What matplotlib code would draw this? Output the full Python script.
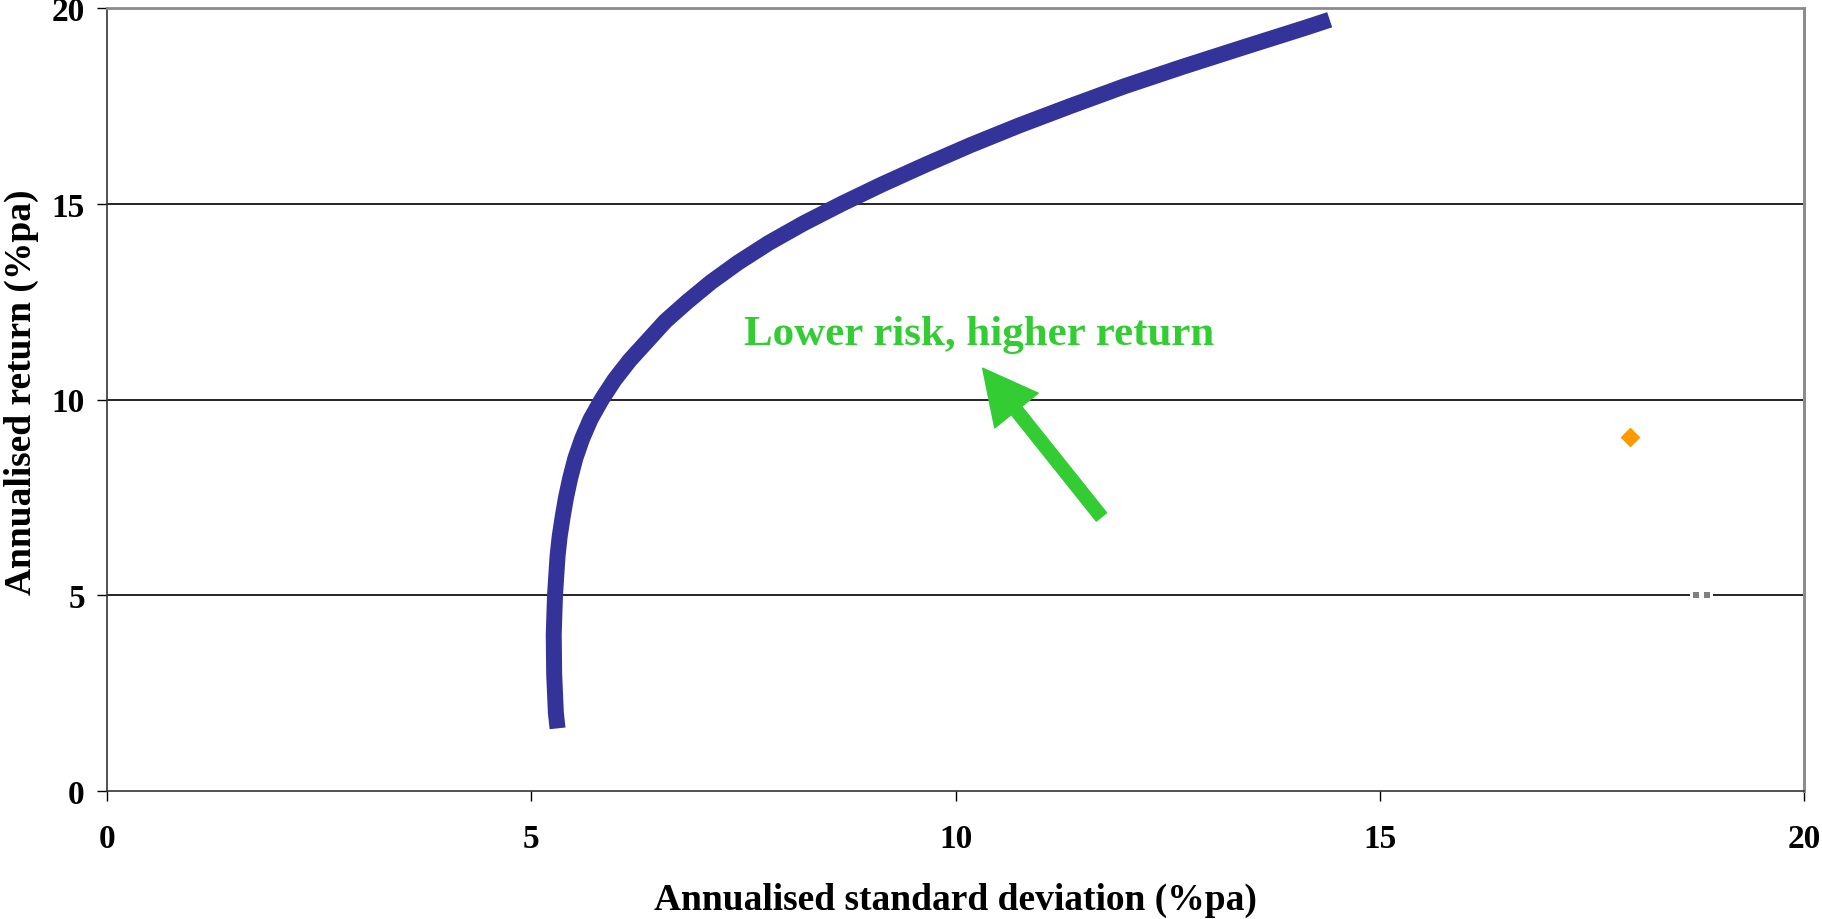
import matplotlib
matplotlib.use("Agg")
import matplotlib.pyplot as plt
from matplotlib.patches import FancyArrowPatch, ArrowStyle

# efficient frontier
frontier_ret = [1.6, 2.0, 3.0, 4.0, 5.0, 6.0, 6.5, 7.0, 7.5, 8.0, 8.5, 9.0, 9.5,
                10.0, 10.5, 11.0, 11.5, 12.0, 12.5, 13.0, 13.5, 14.0, 14.5,
                15.0, 15.5, 16.0, 16.5, 17.0, 17.5, 18.0, 18.5, 19.0, 19.5, 19.7]
frontier_sd = [5.31, 5.29, 5.27, 5.265, 5.28, 5.31, 5.335, 5.37, 5.41, 5.46,
               5.52, 5.60, 5.70, 5.83, 5.98, 6.16, 6.37, 6.58, 6.84, 7.12,
               7.44, 7.80, 8.21, 8.66, 9.14, 9.65, 10.18, 10.75, 11.36, 11.99,
               12.68, 13.40, 14.13, 14.41]

# single portfolio (orange diamond)
point_sd = [17.95]
point_ret = [9.04]

# grey marks on the 5% line
grey_sd = [18.73, 18.86]
grey_ret = [5.0, 5.0]

x_ticks = [0, 5, 10, 15, 20]
y_ticks = [0, 5, 10, 15, 20]

note_text = "Lower risk, higher return"
arrow_from = (11.72, 7.0)
arrow_to = (10.32, 10.8)

plt.rcParams['font.family'] = ['Liberation Serif', 'DejaVu Serif']
plt.rcParams['font.weight'] = 'bold'

fig = plt.figure(figsize=(18.22, 9.2), dpi=100)
ax = fig.add_axes([107 / 1822, 1 - 792 / 920, 1697 / 1822, 783 / 920])

ax.set_xlim(0, 20)
ax.set_ylim(0, 20)
ax.set_xticks(x_ticks)
ax.set_yticks(y_ticks)
ax.tick_params(axis='both', direction='out', length=7, width=1.0, labelsize=24)
ax.tick_params(axis='x', pad=16)
ax.tick_params(axis='y', pad=9)

for v in y_ticks[1:-1]:
    ax.axhline(v, color='black', lw=1.2, zorder=1)

ax.spines['top'].set_color('#8c8c8c')
ax.spines['right'].set_color('#8c8c8c')
ax.spines['top'].set_linewidth(2)
ax.spines['right'].set_linewidth(2.2)
ax.spines['left'].set_color('#333333')
ax.spines['bottom'].set_color('#333333')
ax.spines['left'].set_linewidth(1.2)
ax.spines['bottom'].set_linewidth(1.2)

ax.plot(frontier_sd, frontier_ret, color='#333399', lw=11.5,
        solid_capstyle='butt', solid_joinstyle='round', zorder=3)
ax.plot(point_sd, point_ret, ls='none', marker='D', ms=9.2,
        color='#ff9900', zorder=4)
# white halo under the grey marks hides the grid line there
ax.plot(grey_sd, grey_ret, ls='none', marker='s', ms=9, color='white',
        markeredgewidth=0, zorder=2)
ax.plot(grey_sd, grey_ret, ls='none', marker='s', ms=4.3, color='#808080',
        markeredgewidth=0, zorder=4)

ax.text(10.28, 11.42, note_text, color='#33cc33', fontsize=31,
        fontweight='bold', ha='center', va='baseline', zorder=5)

arrow = FancyArrowPatch(arrow_from, arrow_to,
                        arrowstyle=ArrowStyle.Simple(head_length=39, head_width=40,
                                                     tail_width=9.5),
                        mutation_scale=1, color='#33cc33', shrinkA=0, shrinkB=0,
                        zorder=5)
ax.add_patch(arrow)

ax.set_xlabel("Annualised standard deviation (%pa)", fontsize=27,
              fontweight='bold', labelpad=20)
fig.text(21 / 1822, 1 - 392 / 920, "Annualised return (%pa)", fontsize=27,
         fontweight='bold', rotation=90, ha='center', va='center')

fig.savefig("out.png", dpi=100)
